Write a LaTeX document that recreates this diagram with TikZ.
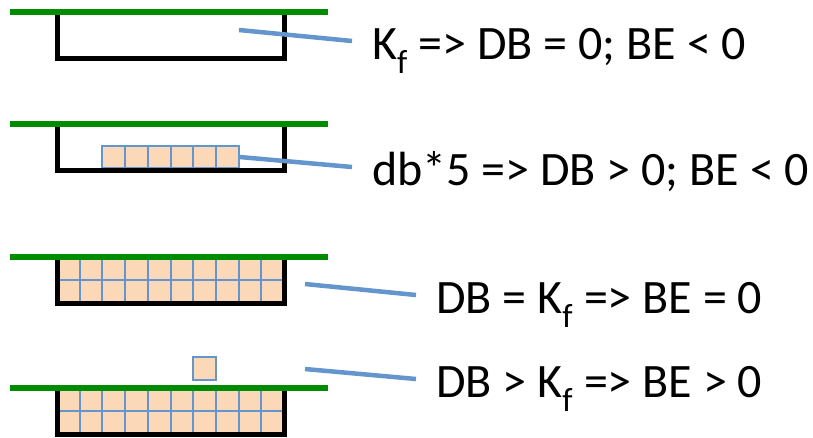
\documentclass[tikz,border=0pt]{standalone}
\usepackage{fontspec}
\setmainfont{Carlito}
\usetikzlibrary{positioning, calc}
\definecolor{TrayGreen}{RGB}{0,140,0}
\definecolor{LeaderBlue}{RGB}{100,150,205}
\definecolor{BlockFill}{RGB}{251,216,184}
\tikzset{
  surface/.style={TrayGreen, line width=5.5pt},
  tray/.style={black, line width=5pt, line join=miter},
  block/.style={draw=LeaderBlue, fill=BlockFill, line width=2pt, minimum width=22.7pt, minimum height=21.5pt, inner sep=0pt},
  leader/.style={LeaderBlue, line width=4.5pt},
  rule/.style={anchor=base west, inner xsep=20pt, inner ysep=0pt, text height=43pt, text depth=7pt, font=\fontsize{48}{58}\selectfont}
}
\begin{document}
\begin{tikzpicture}[x=1pt, y=-1pt]
    \useasboundingbox (0,0) rectangle (813,437);
    \foreach \c in {0,...,9}
        \foreach \y in {270,291,401,422}
            \node[block] (f-\c-\y) at ({57+22.7*(\c+0.5)},\y) {};
    \foreach \c [count=\n] in {2,...,7}
        \node[block] (d\n) at ({57+22.7*(\c+0.5)},157) {};
    \node[block, minimum height=22.7pt] (extra) at ({57+22.7*6.5},368.5) {};
    \foreach \g in {12,124,257,388} {
        \draw[tray] (57,\g+3) -- (57,\g+46) -- (284,\g+46) -- (284,\g+3);
        \draw[surface] (10,\g) -- (328,\g);
    }
    \node[rule] (kf) at (352,59) {K\textsubscript{f} => DB = 0; BE < 0};
    \node[rule] (dbfive) at (352,185) {db*5 => DB > 0; BE < 0};
    \node[rule] (dbeq) at (416,313) {DB = K\textsubscript{f} => BE = 0};
    \node[rule] (dbgt) at (416,397) {DB > K\textsubscript{f} => BE > 0};
    \coordinate (empty) at (239,30);
    \coordinate (full) at (305,284);
    \coordinate (over) at (305,369);
    \draw[leader] (empty) -- (kf.west);
    \draw[leader] (d6.east) -- (dbfive.west);
    \draw[leader] (full) -- (dbeq.west);
    \draw[leader] (over) -- (dbgt.west);
\end{tikzpicture}
\end{document}
